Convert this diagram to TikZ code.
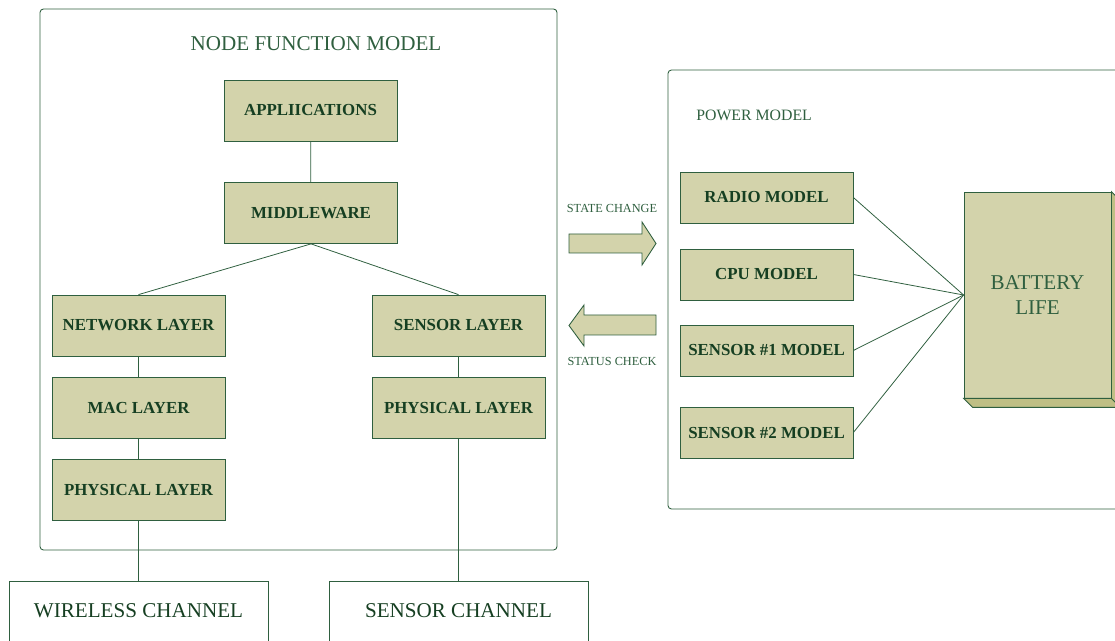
\documentclass[tikz,border=0pt]{standalone}
\usepackage{fontspec}
\setmainfont{Liberation Serif}
\usetikzlibrary{positioning}
\definecolor{khaki}{HTML}{D3D3AB}
\definecolor{khakid}{HTML}{BFBF85}
\definecolor{pine}{HTML}{2F5F3F}
\definecolor{pinetext}{HTML}{163F22}
\tikzset{
    frame/.style = {draw=pine,line width=0.5pt,rounded corners=2pt},
    layer/.style = {rectangle, draw=pine, line width=0.45pt, fill=khaki, minimum width=3.46cm, minimum height=1.22cm, text=pinetext, font=\fontsize{9.6}{12}\selectfont\bfseries},
    model/.style = {layer, minimum height=1.02cm},
    channel/.style = {rectangle, text=pinetext, font=\fontsize{12}{14}\selectfont},
    caption/.style = {text=pine, font=\fontsize{7}{9}\selectfont},
    link/.style = {draw=pine, line width=0.45pt},
    flow/.style = {draw=pine, line width=0.5pt, fill=khaki}
}
\begin{document}
\begin{tikzpicture}[x=0.02cm,y=-0.02cm]
\useasboundingbox (0,0) rectangle (1115,641);
%
% node function model
\draw[frame] (40,9) rectangle (557,550);
\node[text=pine, font=\fontsize{12}{14}\selectfont] at (316,44) (nfm) {NODE FUNCTION MODEL};
\node[layer] at (310.5,110.5) (app) {APPLIICATIONS};
\node[layer] at (311,213) (mid) {MIDDLEWARE};
\node[layer] at (138.5,325.5) (net) {NETWORK LAYER};
\node[layer] at (138.5,407.5) (mac) {MAC LAYER};
\node[layer] at (138.5,489.5) (phyl) {PHYSICAL LAYER};
\node[layer] at (458.5,325.5) (sen) {SENSOR LAYER};
\node[layer] at (458.5,407.5) (phyr) {PHYSICAL LAYER};
%
% channels, cut off at the bottom
\draw[link, line width=0.5pt] (9,660) |- (268,581) -- (268,660);
\draw[link, line width=0.5pt] (329,660) |- (588,581) -- (588,660);
\node[channel] at (138.5,611) (wch) {WIRELESS CHANNEL};
\node[channel] at (458.5,611) (sch) {SENSOR CHANNEL};
\coordinate (wtop) at (138.5,581);
\coordinate (stop) at (458.5,581);
%
\draw[link] (app) -- (mid);
\draw[link] (mid.south) -- (net.north);
\draw[link] (mid.south) -- (sen.north);
\draw[link] (net) -- (mac);
\draw[link] (mac) -- (phyl);
\draw[link] (sen) -- (phyr);
\draw[link] (phyl) -- (wtop);
\draw[link] (phyr) -- (stop);
%
% state change / status check
\node[caption] at (612,208) (sc) {STATE CHANGE};
\node[caption] at (612,361) (st) {STATUS CHECK};
\draw[flow] (569,234) -- (642,234) -- (642,222) -- (656,243.5) -- (642,265) -- (642,253) -- (569,253) -- cycle;
\draw[flow] (656,315) -- (584,315) -- (584,305) -- (569,325.5) -- (584,346) -- (584,335) -- (656,335) -- cycle;
%
% power model
\draw[frame] (1130,70) -| (668,509) -- (1130,509);
\node[text=pine, font=\fontsize{9}{11}\selectfont, anchor=west, inner sep=0pt] at (696,115) (pm) {POWER MODEL};
\node[model] at (766.5,197.5) (radio) {RADIO MODEL};
\node[model] at (766.5,274.5) (cpu) {CPU MODEL};
\node[model] at (766.5,350.5) (sone) {SENSOR \#1 MODEL};
\node[model] at (766.5,432.5) (stwo) {SENSOR \#2 MODEL};
%
\node[rectangle, draw=pine, line width=0.5pt, fill=khaki, minimum width=2.94cm, minimum height=4.12cm, align=center, text=pine, font=\fontsize{12}{14.5}\selectfont] at (1037.5,295) (bat) {BATTERY\\LIFE};
\draw[flow, fill=khakid] (bat.south west) -- ++(9,9) -- ([shift={(9,9)}]bat.south east) -- ([shift={(9,9)}]bat.north east) -- (bat.north east) -- (bat.south east) -- cycle;
\draw[link] (bat.south east) -- ([shift={(9,9)}]bat.south east);
%
\foreach \m in {radio,cpu,sone,stwo}
  \draw[link] (\m.east) -- (bat.west);

\end{tikzpicture}
\end{document}
